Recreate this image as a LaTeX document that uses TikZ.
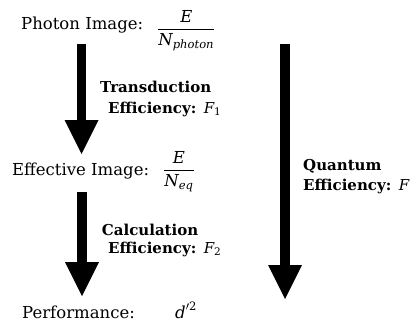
\documentclass[tikz,border=0pt]{standalone}
\usepackage{amsmath}
\usepackage{fontspec}
\setmainfont{DejaVu Serif}
\usetikzlibrary{arrows.meta}
\newcommand{\vi}[1]{\textit{#1}}
\newcommand{\fv}[1]{{\normalfont\itshape #1}}
\begin{document}
\begin{tikzpicture}[x=1pt,y=1pt,
  lbl/.style={anchor=base west, inner sep=0pt, font=\fontsize{16.5}{19}\selectfont},
  blbl/.style={lbl, font=\fontsize{15}{18}\selectfont\bfseries},
  fat/.style={line width=9.5pt, -{Triangle[length=34pt,width=34pt,line width=0pt]}}]
\useasboundingbox (0,0) rectangle (415,325);
% texts
\node[lbl] (photon) at (21,296) {Photon Image:};
\node[lbl] (frac1) at (157,291) {$\dfrac{\vi{E}}{\vi{N}_{\vi{photon}}}$};
\node[blbl] (trans) at (100,233) {Transduction};
\node[blbl] (eff1) at (108,212) {Efficiency:\hspace{0.5em}\fv{F}$_{\text{\normalfont 1}}$};
\node[lbl] (effective) at (12,150) {Effective Image:};
\node[lbl] (frac2) at (163,150) {$\dfrac{\vi{E}}{\vi{N}_{\vi{eq}}}$};
\node[blbl] (calc) at (101.7,90) {Calculation};
\node[blbl] (eff2) at (108,72) {Efficiency:\hspace{0.5em}\fv{F}$_{\text{\normalfont 2}}$};
\node[lbl] (perf) at (22,7) {Performance:};
\node[lbl] (dprime) at (175,7) {$\vi{d}'^{\text{2}}$};
\node[blbl] (quantum) at (303,155) {Quantum};
\node[blbl] (eff3) at (303,135) {Efficiency:\hspace{0.5em}\fv{F}};
% arrows
\coordinate (a1s) at (81.5,281);
\coordinate (a1e) at (81.5,171);
\coordinate (a2s) at (82,133);
\coordinate (a2e) at (82,29);
\coordinate (a3s) at (285,281);
\coordinate (a3e) at (285,26);
\draw[fat] (a1s) -- (a1e);
\draw[fat] (a2s) -- (a2e);
\draw[fat] (a3s) -- (a3e);
\end{tikzpicture}
\end{document}
